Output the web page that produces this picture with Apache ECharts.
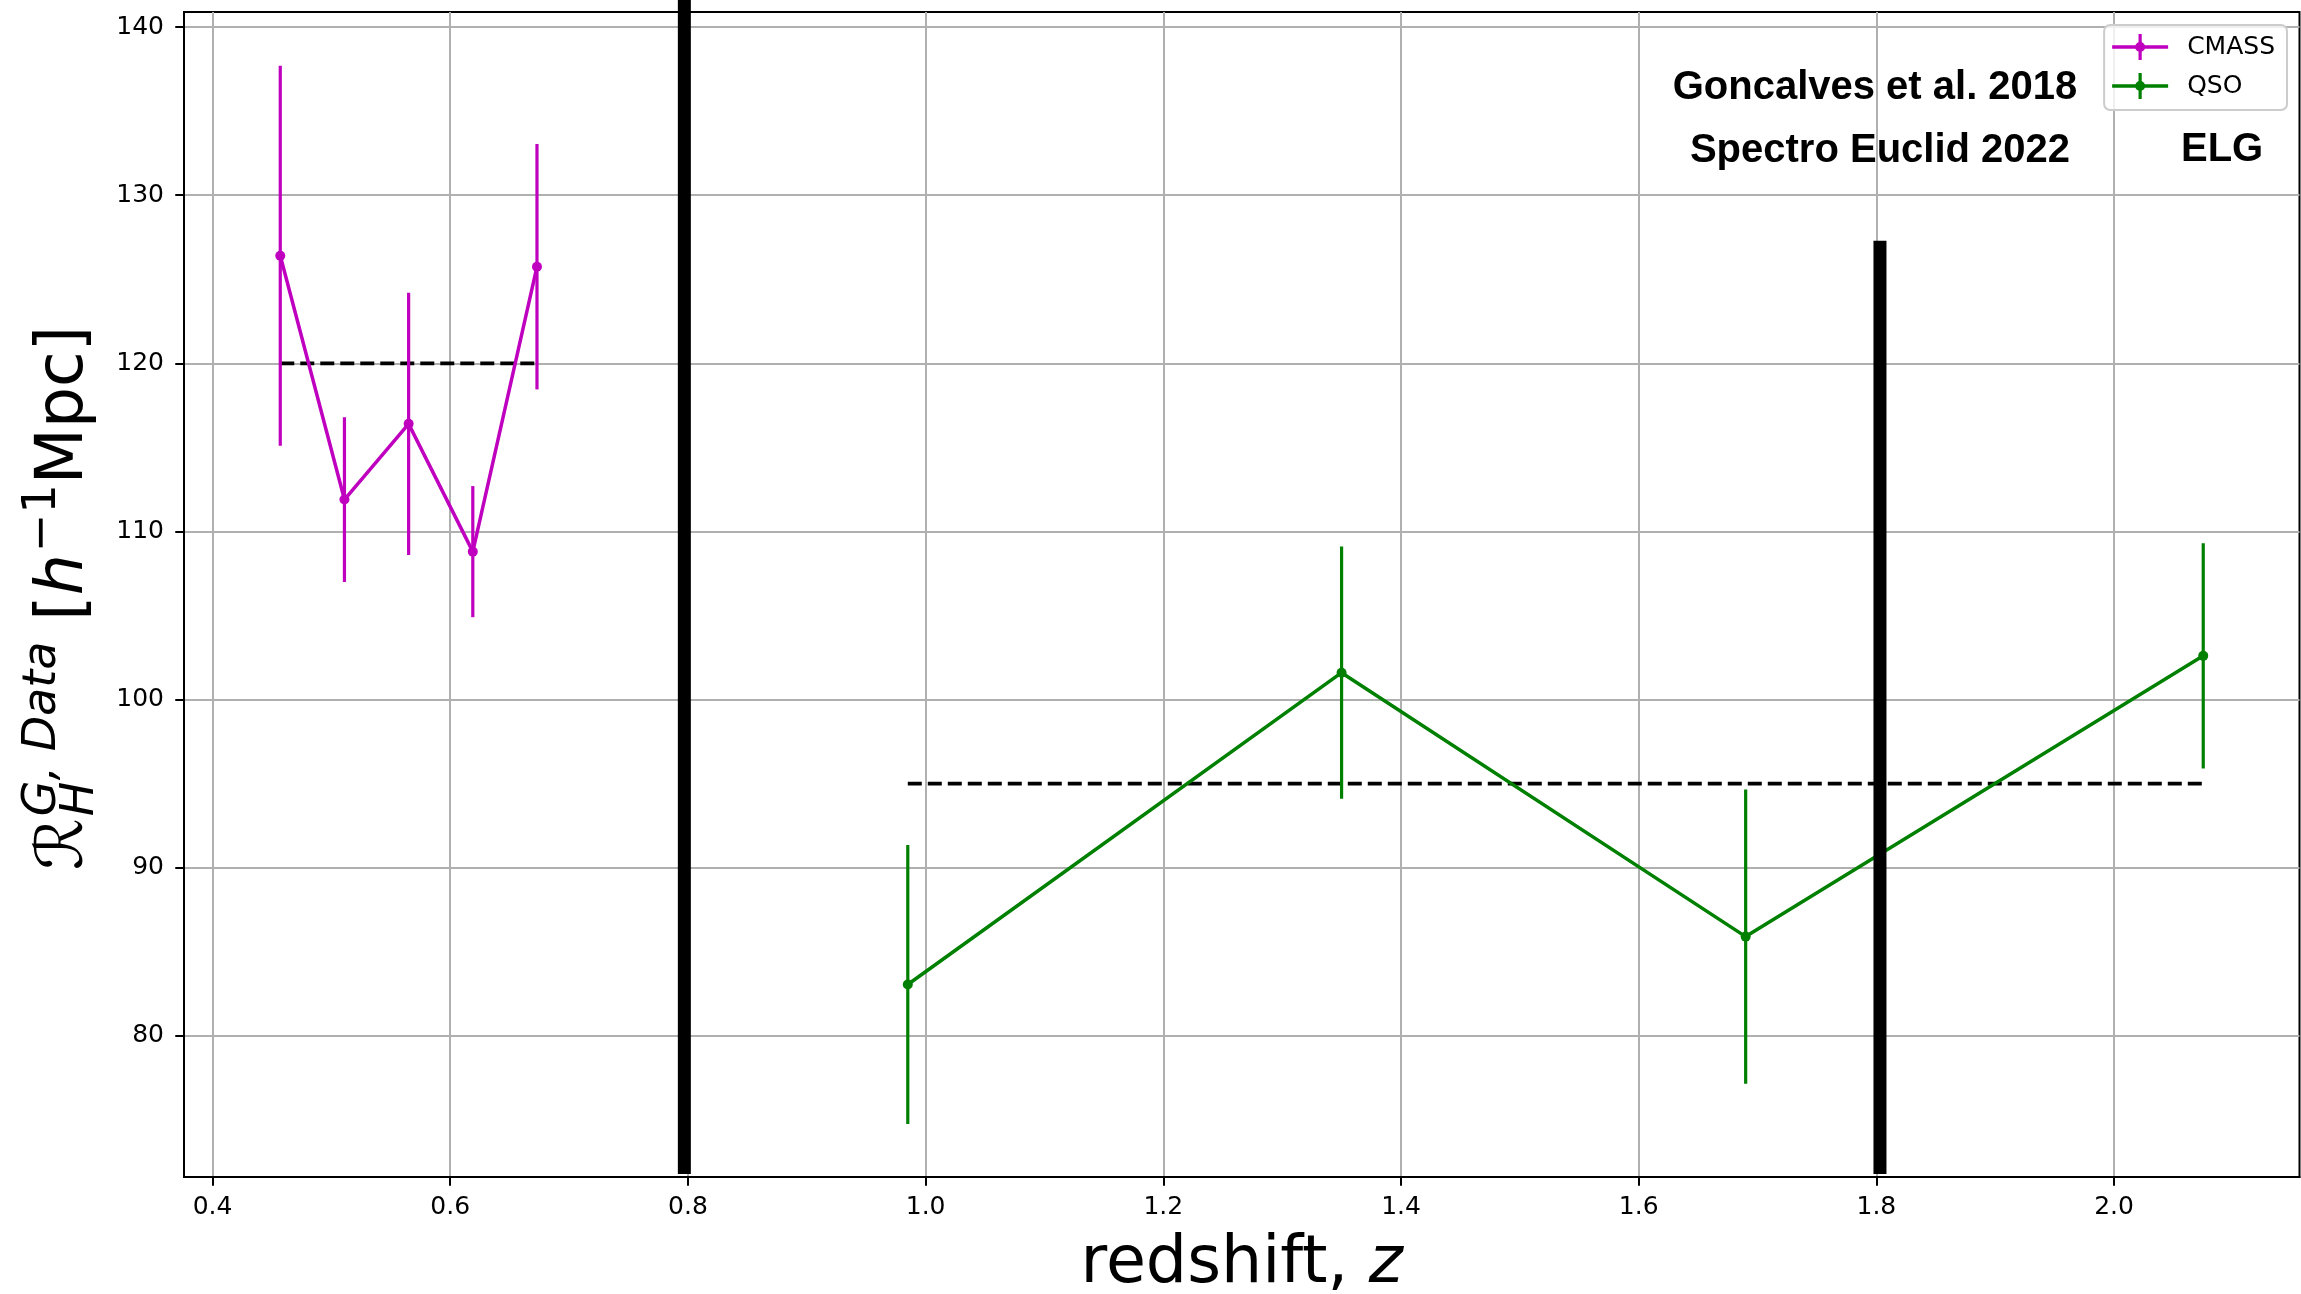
<!DOCTYPE html>
<html>
<head>
<meta charset="utf-8">
<script src="https://cdn.jsdelivr.net/npm/echarts@6/dist/echarts.min.js"></script>
<style>
  html, body { margin: 0; padding: 0; background: #ffffff; }
  #chart { width: 2301px; height: 1294px; }
</style>
</head>
<body>
<div id="chart"></div>
<script>
// CMASS measurements: redshift, R_H value and 1-sigma error
const cmassZ   = [0.457, 0.511, 0.565, 0.619, 0.673];
const cmassR   = [126.4, 111.9, 116.4, 108.8, 125.75];
const cmassErr = [11.3, 4.9, 7.8, 3.9, 7.3];
const cmassLevel = 120;

// QSO measurements
const qsoZ   = [0.985, 1.350, 1.690, 2.075];
const qsoR   = [83.05, 101.6, 85.9, 102.6];
const qsoErr = [8.3, 7.5, 8.75, 6.7];
const qsoLevel = 95;

// Redshift bin boundaries (thick black bars) and the height each reaches
const binEdges    = [0.797, 1.803];
const binEdgeTops = [145, 127.3];

// Axis ticks
const xTicks = [0.4, 0.6, 0.8, 1.0, 1.2, 1.4, 1.6, 1.8, 2.0];
const yTicks = [80, 90, 100, 110, 120, 130, 140];

const X_MIN = 0.376, X_MAX = 2.156;
const Y_MIN = 71.6, Y_MAX = 140.9;

const MAGENTA = '#bf00bf';
const GREEN = '#008000';

const chart = echarts.init(document.getElementById('chart'), null, { renderer: 'canvas' });

function errorBarSeries(zs, vals, errs, color) {
  return {
    type: 'custom',
    z: 3,
    silent: true,
    data: zs.map((z, i) => [z, vals[i] - errs[i], vals[i] + errs[i]]),
    renderItem(params, api) {
      const lo = api.coord([api.value(0), api.value(1)]);
      const hi = api.coord([api.value(0), api.value(2)]);
      return {
        type: 'line',
        shape: { x1: lo[0], y1: lo[1], x2: hi[0], y2: hi[1] },
        style: { stroke: color, lineWidth: 3.2 }
      };
    }
  };
}

function levelSeries(zs, level) {
  return {
    type: 'line',
    z: 1,
    silent: true,
    symbol: 'none',
    data: [[zs[0], level], [zs[zs.length - 1], level]],
    lineStyle: { color: '#000000', width: 3.7, type: [14, 6] }
  };
}

// --- y-axis title built from pieces (script R with sub/superscripts) ---
const measureCtx = document.createElement('canvas').getContext('2d');
function textW(str, size, italic) {
  measureCtx.font = (italic ? 'italic ' : '') + size + 'px "DejaVu Sans"';
  return measureCtx.measureText(str).width;
}
const FS = 65, FSS = 46;
function piece(str, x, baseline, size, italic) {
  return {
    type: 'text',
    x: x,
    y: baseline - 0.346 * size,
    style: {
      text: str, fontSize: size, fontFamily: 'DejaVu Sans',
      fontStyle: italic ? 'italic' : 'normal', fill: '#000000',
      align: 'left', verticalAlign: 'middle',
      textAlign: 'left', textVerticalAlign: 'middle'
    }
  };
}
const yl = [];
let cx = 0;
yl.push(piece('\u211B', cx, 0, FS, false));
cx += textW('\u211B', FS, false) + 2;
yl.push(piece('G, Data', cx, -0.44 * FS, FSS, true));
yl.push(piece('H', cx, 0.14 * FS, FSS, true));
cx += Math.max(textW('G, Data', FSS, true), textW('H', FSS, true)) + 0.32 * FS;
yl.push(piece('[', cx, 0, FS, false));
cx += textW('[', FS, false);
yl.push(piece('h', cx, 0, FS, true));
cx += textW('h', FS, true) + 2;
yl.push(piece('\u22121', cx, -0.44 * FS, FSS, false));
cx += textW('\u22121', FSS, false);
yl.push(piece('Mpc]', cx, 0, FS, false));
cx += textW('Mpc]', FS, false);
const yLabelTotal = cx;

const annotStyle = {
  fontSize: 40, fontFamily: 'Liberation Sans', fontWeight: 'bold', fill: '#000000',
  align: 'center', verticalAlign: 'middle', textAlign: 'center', textVerticalAlign: 'middle'
};

const option = {
  backgroundColor: '#ffffff',
  animation: false,
  grid: {
    left: 184, right: 1.5, top: 12, bottom: 117,
    outerBoundsMode: 'none',
    containLabel: false,
    show: true, borderColor: '#000000', borderWidth: 2, backgroundColor: '#ffffff'
  },
  legend: {
    data: ['CMASS', 'QSO'],
    orient: 'vertical',
    right: 14, top: 25,
    icon: 'path://M0,11.25H56V14.75H0Z M26.4,0H29.6V26H26.4Z M33,13A5,5,0,1,1,23,13A5,5,0,1,1,33,13Z',
    itemWidth: 56, itemHeight: 26, itemGap: 13,
    padding: [9, 12, 11, 8],
    backgroundColor: 'rgba(255,255,255,0.8)',
    borderColor: '#cccccc', borderWidth: 2, borderRadius: 6,
    textStyle: { fontFamily: 'DejaVu Sans', fontSize: 25, color: '#000000', padding: [0, 0, 0, 14] }
  },
  xAxis: {
    type: 'value', min: X_MIN, max: X_MAX,
    name: '{t|redshift, }{z|z}',
    nameLocation: 'middle', nameGap: 56,
    nameTextStyle: {
      fontSize: 65, fontFamily: 'DejaVu Sans', color: '#000000',
      rich: {
        t: { fontSize: 65, fontFamily: 'DejaVu Sans', color: '#000000' },
        z: { fontSize: 65, fontFamily: 'DejaVu Sans', fontStyle: 'italic', color: '#000000' }
      }
    },
    axisLine: { show: true, onZero: false, lineStyle: { color: '#000000', width: 2 } },
    axisTick: { show: true, inside: false, length: 8.75, customValues: xTicks, lineStyle: { color: '#000000', width: 2 } },
    axisLabel: {
      customValues: xTicks, margin: 18,
      fontFamily: 'DejaVu Sans', fontSize: 25, color: '#000000',
      formatter: v => v.toFixed(1)
    },
    splitLine: { show: true, lineStyle: { color: '#b0b0b0', width: 2 } }
  },
  yAxis: {
    type: 'value', min: Y_MIN, max: Y_MAX,
    axisLine: { show: true, onZero: false, lineStyle: { color: '#000000', width: 2 } },
    axisTick: { show: true, inside: false, length: 8.75, customValues: yTicks, lineStyle: { color: '#000000', width: 2 } },
    axisLabel: {
      customValues: yTicks, margin: 20,
      fontFamily: 'DejaVu Sans', fontSize: 25, color: '#000000',
      formatter: v => String(Math.round(v))
    },
    splitLine: { show: true, lineStyle: { color: '#b0b0b0', width: 2 } }
  },
  series: [
    levelSeries(cmassZ, cmassLevel),
    levelSeries(qsoZ, qsoLevel),
    errorBarSeries(cmassZ, cmassR, cmassErr, MAGENTA),
    errorBarSeries(qsoZ, qsoR, qsoErr, GREEN),
    {
      name: 'CMASS', type: 'line', z: 3,
      data: cmassZ.map((z, i) => [z, cmassR[i]]),
      symbol: 'circle', symbolSize: 10,
      itemStyle: { color: MAGENTA },
      lineStyle: { color: MAGENTA, width: 3.5 }
    },
    {
      name: 'QSO', type: 'line', z: 3,
      data: qsoZ.map((z, i) => [z, qsoR[i]]),
      symbol: 'circle', symbolSize: 10,
      itemStyle: { color: GREEN },
      lineStyle: { color: GREEN, width: 3.5 }
    },
    {
      type: 'custom', z: 5, silent: true, clip: false,
      data: binEdges.map((z, i) => [z, Y_MIN, binEdgeTops[i]]),
      renderItem(params, api) {
        const lo = api.coord([api.value(0), api.value(1)]);
        const hi = api.coord([api.value(0), api.value(2)]);
        const w = 13;
        return {
          type: 'rect',
          shape: { x: lo[0] - w / 2, y: hi[1], width: w, height: lo[1] - hi[1] - 3 },
          style: { fill: '#000000' }
        };
      }
    }
  ],
  graphic: [
    {
      type: 'group',
      x: 88, y: 598 + yLabelTotal / 2,
      rotation: Math.PI / 2,
      children: yl
    },
    { type: 'text', x: 1875, y: 88, style: Object.assign({ text: 'Goncalves et al. 2018' }, annotStyle) },
    { type: 'text', x: 1880, y: 151, style: Object.assign({ text: 'Spectro Euclid 2022' }, annotStyle) },
    {
      type: 'text', x: 2181, y: 150,
      style: Object.assign({ text: 'ELG' }, annotStyle, { align: 'left', textAlign: 'left' })
    }
  ]
};

chart.setOption(option);
</script>
</body>
</html>
